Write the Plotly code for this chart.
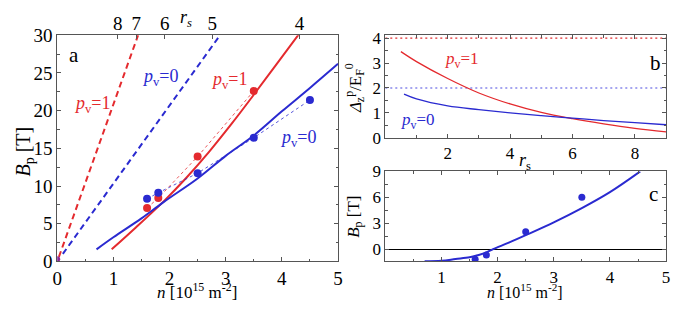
import plotly.graph_objects as go

RED = "#e42a2e"
BLUE = "#2a2ad0"
FONT = "Liberation Serif"

# ---------------- Panel a data ----------------
a_red_fit_n = [0.97, 1.4, 1.9, 2.3, 2.7, 3.1, 3.5, 3.9, 4.31]
a_red_fit_B = [1.6, 4.5, 8.0, 11.1, 14.5, 18.2, 22.1, 26.1, 30.2]
a_blue_fit_n = [0.7, 1.0, 1.5, 1.9, 2.5, 3.0, 3.5, 4.0, 4.5, 5.0]
a_blue_fit_B = [1.6, 3.2, 5.7, 7.9, 11.0, 14.0, 16.7, 19.9, 23.0, 26.2]
a_red_dash_n = [0.03, 1.44]
a_red_dash_B = [0.6, 30.0]
a_blue_dash_n = [0.1, 2.9]
a_blue_dash_B = [1.0, 30.0]
a_red_pts_n = [1.6, 1.8, 2.5, 3.5]
a_red_pts_B = [7.1, 8.4, 13.9, 22.6]
a_blue_pts_n = [1.6, 1.8, 2.5, 3.5, 4.5]
a_blue_pts_B = [8.3, 9.1, 11.7, 16.4, 21.4]
origin_n = [0.0]
origin_B = [0.3]
rs_ticks = [8, 7, 6, 5, 4]
RS_CONST = 69.0  # n [1e15 m^-2] = RS_CONST / rs^2

# ---------------- Panel b data ----------------
b_red_rs = [0.5, 1, 2, 3, 4, 5, 6, 7, 8, 9]
b_red_val = [3.46, 3.06, 2.38, 1.80, 1.36, 1.02, 0.77, 0.56, 0.38, 0.24]
b_blue_rs = [0.6, 1, 2, 3, 4, 5, 6, 7, 8, 9]
b_blue_val = [1.75, 1.56, 1.28, 1.13, 1.0, 0.89, 0.79, 0.69, 0.61, 0.525]
b_red_level = 4.0
b_blue_level = 2.0
b_xticks = [0, 2, 4, 6, 8]

# ---------------- Panel c data ----------------
c_fit_n = [0.7, 1.0, 1.25, 1.5, 1.65, 1.8, 1.92, 2.2, 2.53, 3.0, 3.5, 4.0, 4.54]
c_fit_B = [-1.4, -1.35, -1.15, -0.95, -0.7, -0.38, 0.0, 0.75, 1.7, 3.1, 4.75, 6.6, 9.0]
c_pts_n = [1.6, 1.8, 2.5, 3.5]
c_pts_B = [-1.18, -0.68, 2.0, 6.0]
c_xticks = [0, 1, 2, 3, 4, 5]

fig = go.Figure()

# Panel a traces
fig.add_trace(go.Scatter(x=a_red_dash_n, y=a_red_dash_B, mode="lines",
                         line=dict(color=RED, width=2, dash="6px,4px"), xaxis="x", yaxis="y"))
fig.add_trace(go.Scatter(x=a_blue_dash_n, y=a_blue_dash_B, mode="lines",
                         line=dict(color=BLUE, width=2, dash="6px,4px"), xaxis="x", yaxis="y"))
fig.add_trace(go.Scatter(x=a_red_fit_n, y=a_red_fit_B, mode="lines", line_shape="spline",
                         line=dict(color=RED, width=2), xaxis="x", yaxis="y"))
fig.add_trace(go.Scatter(x=a_blue_fit_n, y=a_blue_fit_B, mode="lines", line_shape="spline",
                         line=dict(color=BLUE, width=2), xaxis="x", yaxis="y"))
fig.add_trace(go.Scatter(x=a_red_pts_n, y=a_red_pts_B, mode="lines+markers",
                         line=dict(color=RED, width=0.8, dash="dot"),
                         marker=dict(color=RED, size=8), xaxis="x", yaxis="y"))
fig.add_trace(go.Scatter(x=a_blue_pts_n, y=a_blue_pts_B, mode="lines+markers",
                         line=dict(color=BLUE, width=0.8, dash="dot"),
                         marker=dict(color=BLUE, size=8), xaxis="x", yaxis="y"))
fig.add_trace(go.Scatter(x=origin_n, y=origin_B, mode="markers",
                         marker=dict(color="#8a2a9a", size=6), xaxis="x", yaxis="y"))

# Panel b traces
fig.add_trace(go.Scatter(x=[0, 9], y=[b_red_level, b_red_level], mode="lines",
                         line=dict(color=RED, width=1.2, dash="2px,3px"), xaxis="x2", yaxis="y2"))
fig.add_trace(go.Scatter(x=[0, 9], y=[b_blue_level, b_blue_level], mode="lines",
                         line=dict(color="#4a4ae0", width=1.2, dash="2px,3px"), xaxis="x2", yaxis="y2"))
fig.add_trace(go.Scatter(x=b_red_rs, y=b_red_val, mode="lines", line_shape="spline",
                         line=dict(color=RED, width=1.3), xaxis="x2", yaxis="y2"))
fig.add_trace(go.Scatter(x=b_blue_rs, y=b_blue_val, mode="lines", line_shape="spline",
                         line=dict(color=BLUE, width=1.3), xaxis="x2", yaxis="y2"))

# Panel c traces
fig.add_trace(go.Scatter(x=c_fit_n, y=c_fit_B, mode="lines", line_shape="spline",
                         line=dict(color=BLUE, width=2), xaxis="x3", yaxis="y3"))
fig.add_trace(go.Scatter(x=c_pts_n, y=c_pts_B, mode="markers",
                         marker=dict(color=BLUE, size=7), xaxis="x3", yaxis="y3"))

# Top rs axis for panel a
fig.add_trace(go.Scatter(x=[None], y=[None], xaxis="x4", yaxis="y", showlegend=False))

W, H = 677, 313
def px(x0, x1):
    return [x0 / W, x1 / W]
def py(top, bottom):
    return [1 - bottom / H, 1 - top / H]

axcol = "#555555"
tf = dict(family=FONT, size=19, color="black")
tfs = dict(family=FONT, size=17, color="black")
common = dict(showgrid=False, zeroline=False, showline=True, linecolor=axcol, linewidth=1,
              ticks="inside", tickcolor=axcol, ticklen=4)

# "0" tick labels of panels b and c drawn as text on their own axes
fig.add_trace(go.Scatter(x=[b_xticks[0]], y=[-0.48], mode="text", text=["0"], cliponaxis=False,
                         textfont=tfs, textposition="middle center", xaxis="x2", yaxis="y2"))
fig.add_trace(go.Scatter(x=[c_xticks[0]], y=[-2.65], mode="text", text=["0"], cliponaxis=False,
                         textfont=tfs, textposition="middle center", xaxis="x3", yaxis="y3"))

fig.update_layout(
    width=W, height=H, margin=dict(l=0, r=0, t=0, b=0),
    paper_bgcolor="white", plot_bgcolor="rgba(0,0,0,0)", showlegend=False,
    font=dict(family=FONT, color="black"),
    xaxis=dict(domain=px(53, 338), range=[0, 5], tickvals=[0, 1, 2, 3, 4, 5], mirror=True,
               minor=dict(dtick=0.5, ticks="inside", ticklen=2.5, tickcolor=axcol),
               tickfont=tf, anchor="y", **common),
    yaxis=dict(domain=py(27, 269.5), range=[0, 30], tickvals=[0, 5, 10, 15, 20, 25, 30],
               mirror="ticks", minor=dict(dtick=2.5, ticks="inside", ticklen=2.5, tickcolor=axcol),
               tickfont=tf, anchor="x", **common),
    xaxis4=dict(overlaying="x", side="top", range=[0, 5], anchor="y",
                tickvals=[RS_CONST / r ** 2 for r in rs_ticks], ticktext=[str(r) for r in rs_ticks],
                showgrid=False, zeroline=False, showline=False, ticks="inside",
                tickcolor=axcol, ticklen=4, tickfont=tf),
    xaxis2=dict(domain=px(386, 671), range=[0, 9], tickvals=b_xticks, mirror="ticks",
                ticktext=["" if v == 0 else str(v) for v in b_xticks],
                minor=dict(dtick=1, ticks="inside", ticklen=2.5, tickcolor=axcol),
                tickfont=tfs, anchor="y2", **common),
    yaxis2=dict(domain=py(27, 137), range=[0, 4.12], tickvals=[0, 1, 2, 3, 4], mirror="ticks",
                minor=dict(dtick=0.5, ticks="inside", ticklen=2.5, tickcolor=axcol),
                tickfont=tfs, anchor="x2", **common),
    xaxis3=dict(domain=px(386, 671), range=[0, 5], tickvals=c_xticks, mirror="ticks",
                ticktext=["" if v == 0 else str(v) for v in c_xticks],
                minor=dict(dtick=0.5, ticks="inside", ticklen=2.5, tickcolor=axcol),
                tickfont=tfs, anchor="y3", **common),
    yaxis3=dict(domain=py(173, 269.3), range=[-1.4, 9], tickvals=[0, 3, 6, 9], mirror="ticks",
                minor=dict(dtick=1.5, ticks="inside", ticklen=2.5, tickcolor=axcol),
                tickfont=tfs, anchor="x3", **{**common, "zeroline": True},
                zerolinecolor="black", zerolinewidth=1.2),
)

def ann(text, x, y, color="black", size=15, angle=0):
    fig.add_annotation(text=text, x=x / W, y=1 - y / H, xref="paper", yref="paper",
                       showarrow=False, textangle=angle, xanchor="center", yanchor="middle",
                       font=dict(family=FONT, size=size, color=color))

# Axis titles
ann("<i>r<sub>s</sub></i>", 184, 9, size=18)
ann("<i>B</i><sub>p</sub> [T]", 20, 152, size=20, angle=-90)
ann("<i>n</i> [10<sup>15</sup> m<sup>-2</sup>]", 195, 301, size=17)
ann("<i>Δ</i><sub>z</sub><sup>p</sup>/E<sub>F</sub><sup>0</sup>", 355, 84, size=17, angle=-90)
ann("<i>r</i><sub>s</sub>", 528, 162, size=18)
ann("<i>B</i><sub>p</sub> [T]", 355, 222, size=17, angle=-90)
ann("<i>n</i> [10<sup>15</sup> m<sup>-2</sup>]", 528, 301, size=16)

# Panel labels
ann("a", 70, 48, size=21)
ann("b", 660, 57, size=21)
ann("c", 658, 197, size=21)

# Series labels
ann("<i>p</i><sub>v</sub>=0", 157, 72, color=BLUE, size=18)
ann("<i>p</i><sub>v</sub>=1", 88, 101, color=RED, size=18)
ann("<i>p</i><sub>v</sub>=1", 227, 76, color=RED, size=18)
ann("<i>p</i><sub>v</sub>=0", 297, 138, color=BLUE, size=18)
ann("<i>p</i><sub>v</sub>=1", 464, 54, color=RED, size=17)
ann("<i>p</i><sub>v</sub>=0", 419, 119, color=BLUE, size=17)

fig.write_html("out.html")
